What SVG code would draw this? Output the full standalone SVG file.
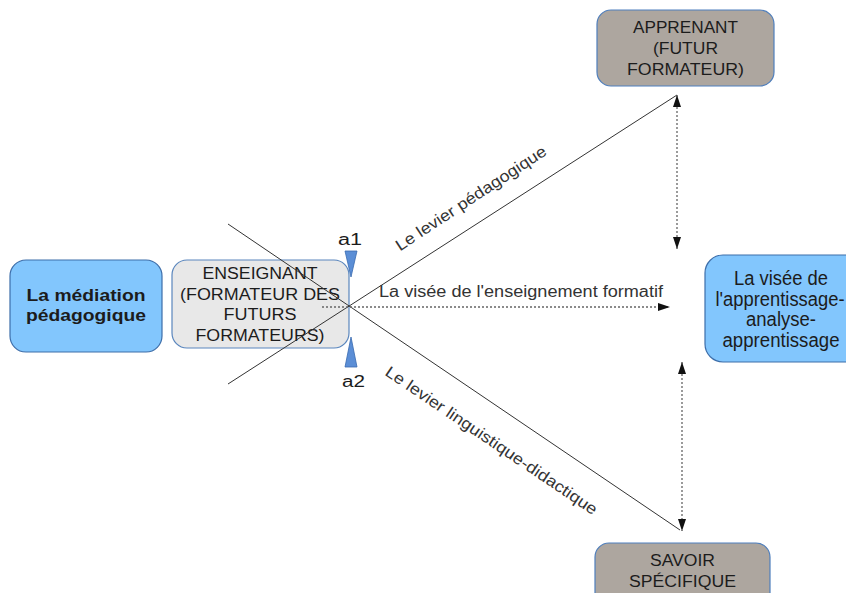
<svg xmlns="http://www.w3.org/2000/svg" width="846" height="593" viewBox="0 0 846 593">
  <style>
    text { font-family: "Liberation Sans", Arial, sans-serif; fill: #1c1c1c; }
    .t16 { font-size: 16px; text-anchor: middle; }
    .bold { font-weight: bold; }
    .lbl { font-size: 16px; fill: #333333; }
    .blue { fill: #82c6fd; stroke: #3d6eaa; stroke-width: 1.2; }
    .grey { fill: #ada69f; stroke: #4f7fbd; stroke-width: 1.2; }
    .light { fill: #e8e8e8; stroke: #5a86bd; stroke-width: 1.2; }
    .solid { stroke: #333333; stroke-width: 1; fill: none; }
    .dot { stroke: #666666; stroke-width: 1.3; stroke-dasharray: 2 2; fill: none; }
    .wedge { fill: #5b8ed6; stroke: #3a6bb0; stroke-width: 0.8; }
  </style>
  <defs>
    <marker id="arr" markerUnits="userSpaceOnUse" markerWidth="12" markerHeight="8" refX="12" refY="4" orient="auto-start-reverse">
      <path d="M0,0 L12,4 L0,8 z" fill="#111111"/>
    </marker>
  </defs>
  <rect width="846" height="593" fill="#ffffff"/>

  <g id="mediation">
    <rect class="blue" x="10" y="260" width="152" height="92" rx="16"/>
    <text class="t16 bold" x="86" y="301" textLength="119" lengthAdjust="spacingAndGlyphs">La médiation</text>
    <text class="t16 bold" x="86" y="321" textLength="120" lengthAdjust="spacingAndGlyphs">pédagogique</text>
  </g>

  <g id="enseignant">
    <rect class="light" x="172" y="260" width="177" height="88" rx="15"/>
    <text class="t16" x="260" y="279" textLength="115" lengthAdjust="spacingAndGlyphs">ENSEIGNANT</text>
    <text class="t16" x="260" y="299.5" textLength="160" lengthAdjust="spacingAndGlyphs">(FORMATEUR DES</text>
    <text class="t16" x="260" y="320" textLength="73" lengthAdjust="spacingAndGlyphs">FUTURS</text>
    <text class="t16" x="260" y="340.5" textLength="129" lengthAdjust="spacingAndGlyphs">FORMATEURS)</text>
  </g>

  <g id="apprenant">
    <rect class="grey" x="597" y="10" width="177" height="76" rx="14"/>
    <text class="t16" x="685.5" y="33" textLength="105" lengthAdjust="spacingAndGlyphs">APPRENANT</text>
    <text class="t16" x="685.5" y="54" textLength="65" lengthAdjust="spacingAndGlyphs">(FUTUR</text>
    <text class="t16" x="685.5" y="75" textLength="117" lengthAdjust="spacingAndGlyphs">FORMATEUR)</text>
  </g>

  <g id="savoir">
    <rect class="grey" x="595" y="543" width="175" height="70" rx="14"/>
    <text class="t16" x="682.5" y="566" textLength="65" lengthAdjust="spacingAndGlyphs">SAVOIR</text>
    <text class="t16" x="682.5" y="587" textLength="107" lengthAdjust="spacingAndGlyphs">SPÉCIFIQUE</text>
  </g>

  <g id="visee">
    <rect class="blue" x="705" y="255" width="160" height="107" rx="18"/>
    <text class="t16" style="font-size:20px" x="781" y="285" textLength="94" lengthAdjust="spacingAndGlyphs">La visée de</text>
    <text class="t16" style="font-size:20px" x="780" y="306" textLength="129" lengthAdjust="spacingAndGlyphs">l'apprentissage-</text>
    <text class="t16" style="font-size:20px" x="781" y="326" textLength="70" lengthAdjust="spacingAndGlyphs">analyse-</text>
    <text class="t16" style="font-size:20px" x="781" y="347" textLength="117" lengthAdjust="spacingAndGlyphs">apprentissage</text>
  </g>

  <g id="angles">
    <polygon class="wedge" points="345,251 357,251 351,277"/>
    <polygon class="wedge" points="351,337 345,367 357,367"/>
    <text class="lbl" style="fill:#1c1c1c" x="338" y="245" textLength="24" lengthAdjust="spacingAndGlyphs">a1</text>
    <text class="lbl" style="fill:#1c1c1c" x="342" y="387" textLength="23" lengthAdjust="spacingAndGlyphs">a2</text>
  </g>

  <g id="connectors">
    <line class="solid" x1="228" y1="224" x2="680" y2="530"/>
    <line class="solid" x1="228" y1="384" x2="677" y2="95"/>
    <line class="dot" x1="322" y1="307" x2="670" y2="307" marker-end="url(#arr)"/>
    <line class="dot" x1="677" y1="95" x2="677" y2="249" marker-start="url(#arr)" marker-end="url(#arr)"/>
    <line class="dot" x1="682" y1="362" x2="682" y2="531" marker-start="url(#arr)" marker-end="url(#arr)"/>
    <text class="lbl" x="379" y="297" textLength="284" lengthAdjust="spacingAndGlyphs">La visée de l'enseignement formatif</text>
    <text class="lbl" transform="translate(400,251.5) rotate(-33.4)" x="0" y="0" textLength="177" lengthAdjust="spacingAndGlyphs">Le levier pédagogique</text>
    <text class="lbl" transform="translate(384,374.5) rotate(34)" x="0" y="0" textLength="252" lengthAdjust="spacingAndGlyphs">Le levier linguistique-didactique</text>
  </g>
</svg>
